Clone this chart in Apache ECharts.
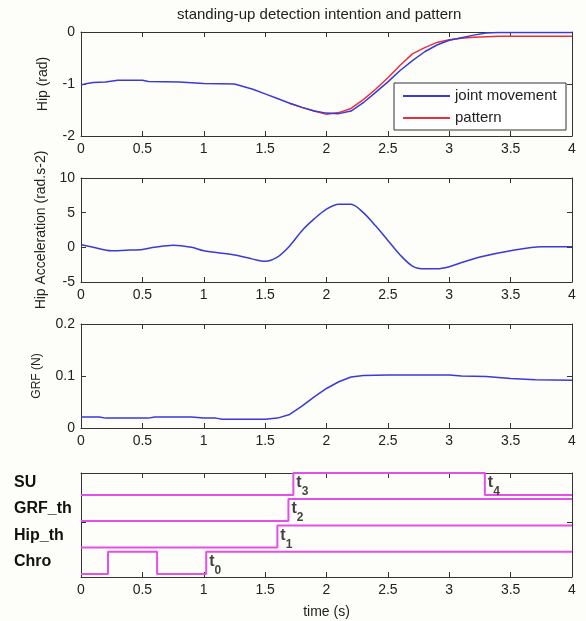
<!DOCTYPE html>
<html><head><meta charset="utf-8">
<script src="https://cdn.jsdelivr.net/npm/echarts@6/dist/echarts.min.js"></script>
<style>html,body{margin:0;padding:0;background:#fdfdf9}#c{width:586px;height:621px}</style>
</head><body><div id="c"></div>
<script>
// ---- data ----
const timeTicks = [0, 0.5, 1, 1.5, 2, 2.5, 3, 3.5, 4];
const hipTicks = [-2, -1, 0];
const accTicks = [-5, 0, 5, 10];
const grfTicks = [0, 0.1, 0.2];

const hipTime  = [0, 0.05, 0.1, 0.2, 0.3, 0.5, 0.55, 0.8, 1.0, 1.25, 1.4, 1.5, 1.6, 1.7, 1.8, 1.9, 2.0, 2.1, 2.2, 2.3, 2.4, 2.5, 2.6, 2.7, 2.8, 2.9, 3.0, 3.1, 3.2, 3.3, 3.4, 3.6, 3.8, 4.0];
const hipJoint = [-1.02, -0.99, -0.97, -0.96, -0.93, -0.93, -0.95, -0.96, -0.99, -1.0, -1.1, -1.19, -1.28, -1.37, -1.45, -1.52, -1.56, -1.57, -1.52, -1.36, -1.16, -0.96, -0.74, -0.55, -0.38, -0.25, -0.16, -0.11, -0.06, -0.02, -0.01, -0.01, -0.01, -0.01];

const patternTime = [1.7, 1.8, 1.9, 2.0, 2.1, 2.2, 2.3, 2.4, 2.5, 2.6, 2.7, 2.8, 2.9, 3.0, 3.1, 3.2, 3.3, 3.4, 3.6, 3.8, 4.0];
const hipPattern  = [-1.37, -1.45, -1.52, -1.58, -1.55, -1.47, -1.3, -1.1, -0.88, -0.64, -0.42, -0.3, -0.2, -0.15, -0.12, -0.1, -0.09, -0.08, -0.08, -0.08, -0.08];

const accTime = [0, 0.1, 0.25, 0.4, 0.5, 0.6, 0.75, 0.9, 1.0, 1.25, 1.4, 1.5, 1.6, 1.7, 1.8, 1.9, 2.0, 2.1, 2.2, 2.3, 2.4, 2.5, 2.6, 2.7, 2.8, 2.9, 3.0, 3.1, 3.25, 3.5, 3.75, 4.0];
const hipAcc  = [0.4, 0.0, -0.5, -0.4, -0.3, 0.0, 0.3, 0.0, -0.5, -1.1, -1.7, -2.0, -1.4, 0.2, 2.4, 4.1, 5.5, 6.2, 6.2, 5.0, 3.1, 1.0, -1.1, -2.7, -3.1, -3.1, -2.8, -2.2, -1.4, -0.5, 0.1, 0.1];

const grfTime = [0, 0.15, 0.2, 0.55, 0.6, 0.9, 1.0, 1.1, 1.15, 1.5, 1.6, 1.7, 1.8, 1.9, 2.0, 2.1, 2.2, 2.3, 2.5, 3.0, 3.1, 3.3, 3.5, 3.7, 4.0];
const grfVal  = [0.021, 0.021, 0.019, 0.019, 0.021, 0.021, 0.019, 0.019, 0.017, 0.017, 0.019, 0.026, 0.042, 0.06, 0.076, 0.089, 0.098, 0.101, 0.102, 0.102, 0.1, 0.099, 0.095, 0.093, 0.092];

const signalNames = ['Chro', 'Hip_th', 'GRF_th', 'SU'];
const signalBase  = [0.12, 1.13, 2.15, 3.15];
const signalHigh  = 0.85;
const chroTime  = [0, 0.22, 0.62, 1.02, 4];  const chroState  = [0, 1, 0, 1, 1];
const hipThTime = [0, 1.6, 4];               const hipThState = [0, 1, 1];
const grfThTime = [0, 1.69, 4];              const grfThState = [0, 1, 1];
const suTime    = [0, 1.73, 3.29, 4];        const suState    = [0, 1, 0, 0];

const eventNames  = ['0', '1', '2', '3', '4'];
const eventTime   = [1.02, 1.6, 1.69, 1.73, 3.29];
const eventSignal = [0, 1, 2, 3, 3];

// ---- chart ----
const FONT = 'Liberation Sans, Arial, sans-serif';
const AX = '#333';
const tops = [32, 178, 324, 473];
const grids = tops.map(t => ({left: 81, right: 14, top: t, height: 104}));
const zip = (a, b) => a.map((v, i) => [v, b[i]]);

const xAxes = [], yAxes = [];
const yRanges = [hipTicks, accTicks, grfTicks, null];
for (let i = 0; i < 4; i++) {
  const base = {
    gridIndex: i, type: 'value', min: timeTicks[0], max: timeTicks[timeTicks.length - 1],
    interval: timeTicks[1] - timeTicks[0],
    axisLine: {show: true, onZero: false, lineStyle: {color: AX, width: 1}},
    axisTick: {show: true, inside: true, length: 5, lineStyle: {color: AX}},
    splitLine: {show: false}
  };
  xAxes.push(Object.assign({}, base, {
    position: 'bottom',
    axisLabel: {show: true, margin: 6, fontSize: 14, color: '#222', fontFamily: FONT},
    name: i === 3 ? 'time (s)' : '', nameLocation: 'middle', nameGap: 28,
    nameTextStyle: {fontSize: 14, color: '#222', fontFamily: FONT}
  }));
  xAxes.push(Object.assign({}, base, {position: 'top', axisLabel: {show: false}}));

  const tk = yRanges[i];
  const yb = {
    gridIndex: i, type: 'value',
    axisLine: {show: true, onZero: false, lineStyle: {color: AX, width: 1}},
    axisTick: {show: true, inside: true, length: 5, lineStyle: {color: AX}},
    splitLine: {show: false}
  };
  if (tk) {
    Object.assign(yb, {min: tk[0], max: tk[tk.length - 1], interval: tk[1] - tk[0]});
  } else {
    Object.assign(yb, {min: 0, max: 4});
    yb.axisTick = Object.assign({}, yb.axisTick, {customValues: [2.1]});
  }
  const names = ['Hip (rad)', 'Hip Acceleration (rad.s-2)', 'GRF (N)', ''];
  const left = Object.assign({}, yb, {
    position: 'left',
    axisLabel: {show: true, margin: 6, fontSize: 14, color: '#222', fontFamily: FONT},
    name: names[i], nameLocation: 'middle', nameRotate: 90,
    nameGap: i === 2 ? 38 : 31,
    nameTextStyle: {fontSize: i === 2 ? 12 : 14, color: '#222', fontFamily: FONT}
  });
  if (!tk) {
    const labelVals = signalBase.map(b => +(b + 0.48).toFixed(3));
    left.axisLabel = {
      show: true, customValues: labelVals, align: 'left', margin: 67,
      fontSize: 16, fontWeight: 'bold', color: '#111', fontFamily: FONT,
      formatter: v => {
        const k = labelVals.findIndex(x => Math.abs(x - v) < 1e-6);
        return k >= 0 ? signalNames[k] : '';
      }
    };
  }
  yAxes.push(left);
  yAxes.push(Object.assign({}, yb, {position: 'right', axisLabel: {show: false}}));
}

const BLUE = '#3a3ad8', RED = '#e8323a', MAG = '#e54ee8';
const series = [
  {name: 'joint movement', type: 'line', xAxisIndex: 0, yAxisIndex: 0, data: zip(hipTime, hipJoint),
   symbol: 'none', lineStyle: {color: BLUE, width: 1.5}, itemStyle: {color: BLUE}, z: 3},
  {name: 'pattern', type: 'line', xAxisIndex: 0, yAxisIndex: 0, data: zip(patternTime, hipPattern),
   symbol: 'none', lineStyle: {color: RED, width: 1.5}, itemStyle: {color: RED}, z: 2},
  {type: 'line', xAxisIndex: 2, yAxisIndex: 2, data: zip(accTime, hipAcc), smooth: 0.3,
   symbol: 'none', lineStyle: {color: BLUE, width: 1.5}},
  {type: 'line', xAxisIndex: 4, yAxisIndex: 4, data: zip(grfTime, grfVal),
   symbol: 'none', lineStyle: {color: BLUE, width: 1.5}}
];
const sigT = [chroTime, hipThTime, grfThTime, suTime];
const sigS = [chroState, hipThState, grfThState, suState];
for (let k = 0; k < 4; k++) {
  series.push({type: 'line', xAxisIndex: 6, yAxisIndex: 6, step: 'end', symbol: 'none',
    data: sigT[k].map((t, j) => [t, signalBase[k] + sigS[k][j] * signalHigh]),
    lineStyle: {color: MAG, width: 2}});
}
series.push({
  type: 'scatter', xAxisIndex: 6, yAxisIndex: 6, symbolSize: 0.1,
  itemStyle: {color: 'rgba(0,0,0,0)'}, silent: true, z: 5,
  data: eventTime.map((t, i) => ({value: [t, signalBase[eventSignal[i]] + signalHigh], name: eventNames[i]})),
  label: {
    show: true, position: [3, 2], align: 'left', verticalAlign: 'top',
    formatter: p => '{t|t}{s|' + p.name + '}',
    rich: {
      t: {fontSize: 16, fontWeight: 'bold', lineHeight: 18, verticalAlign: 'top', color: '#111', fontFamily: FONT},
      s: {fontSize: 12, fontWeight: 'bold', lineHeight: 12, padding: [11, 0, 0, 0], verticalAlign: 'top', color: '#111', fontFamily: FONT}
    }
  }
});

const chart = echarts.init(document.getElementById('c'), null, {renderer: 'canvas'});
chart.setOption({
  animation: false,
  backgroundColor: '#fdfdf9',
  title: {text: 'standing-up detection intention and pattern', left: 172, top: 2,
    textStyle: {fontSize: 15, fontWeight: 'normal', color: '#222', fontFamily: FONT}},
  legend: {
    data: ['joint movement', 'pattern'], orient: 'vertical', left: 403, top: 88, padding: 0,
    itemWidth: 47, itemHeight: 2, itemGap: 6, icon: 'rect', z: 6,
    textStyle: {fontSize: 15, lineHeight: 16, color: '#222', fontFamily: FONT}
  },
  graphic: [{type: 'rect', shape: {x: 394, y: 83, width: 172, height: 47}, z: 5,
    style: {fill: '#fff', stroke: '#333', lineWidth: 1}}],
  grid: grids, xAxis: xAxes, yAxis: yAxes, series: series
});
</script></body></html>
